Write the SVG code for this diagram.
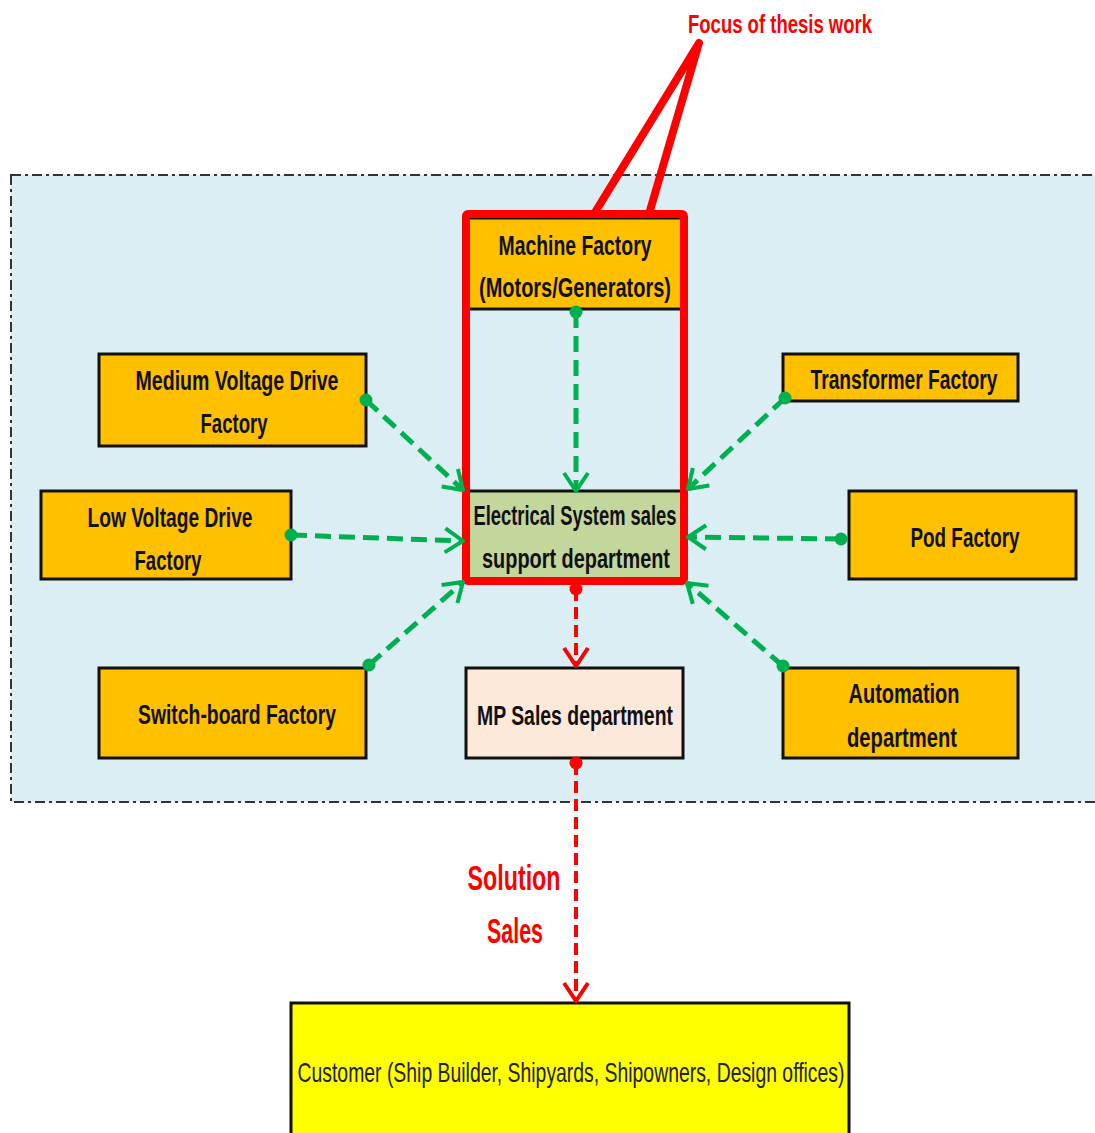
<svg xmlns="http://www.w3.org/2000/svg" width="1095" height="1133" viewBox="0 0 1095 1133">
  <defs>
    <style>
      .box { stroke: #111; stroke-width: 3; }
      .orange { fill: #FFC000; }
      .lbl { font-family: "Liberation Sans Narrow", "Liberation Sans", sans-serif; font-weight: bold; font-size: 27px; fill: #111; text-anchor: middle; }
      .red-lbl { font-family: "Liberation Sans Narrow", "Liberation Sans", sans-serif; font-weight: bold; fill: #FF0000; text-anchor: middle; }
      .g-link { stroke: #00B050; stroke-width: 5; stroke-dasharray: 16 8; fill: none; }
      .r-link { stroke: #FF0000; stroke-width: 4; stroke-dasharray: 12 6; fill: none; }
    </style>
    <marker id="g-dot" viewBox="0 0 14 14" refX="7" refY="7" markerWidth="14" markerHeight="14" markerUnits="userSpaceOnUse">
      <circle cx="7" cy="7" r="6.5" fill="#00B050"/>
    </marker>
    <marker id="g-arrow" viewBox="0 0 22 28" refX="20" refY="14" markerWidth="22" markerHeight="28" markerUnits="userSpaceOnUse" orient="auto">
      <path d="M2,2 L20,14 L2,26" fill="none" stroke="#00B050" stroke-width="4"/>
    </marker>
    <marker id="r-dot" viewBox="0 0 14 14" refX="7" refY="7" markerWidth="14" markerHeight="14" markerUnits="userSpaceOnUse">
      <circle cx="7" cy="7" r="6.5" fill="#FF0000"/>
    </marker>
    <marker id="r-arrow" viewBox="0 0 22 28" refX="20" refY="14" markerWidth="22" markerHeight="28" markerUnits="userSpaceOnUse" orient="auto">
      <path d="M2,2 L20,14 L2,26" fill="none" stroke="#FF0000" stroke-width="4"/>
    </marker>
  </defs>

  <rect width="1095" height="1133" fill="#FFFFFF"/>

  <!-- company boundary -->
  <rect id="boundary" x="11" y="175" width="1100" height="627" fill="#DAEEF3" stroke="#333" stroke-width="2" stroke-dasharray="10 4 3 4"/>

  <g id="machine-factory">
    <rect class="box orange" x="468" y="218" width="214" height="91"/>
    <text class="lbl" x="575" y="255" textLength="153" lengthAdjust="spacingAndGlyphs">Machine Factory</text>
    <text class="lbl" x="575" y="297" textLength="192" lengthAdjust="spacingAndGlyphs">(Motors/Generators)</text>
  </g>

  <g id="es-sales-support">
    <rect x="468" y="491" width="214" height="88" fill="#C3D69B" stroke="#111" stroke-width="3"/>
    <text class="lbl" x="575" y="525" textLength="203" lengthAdjust="spacingAndGlyphs">Electrical System sales</text>
    <text class="lbl" x="576" y="568" textLength="188" lengthAdjust="spacingAndGlyphs">support department</text>
  </g>

  <!-- thesis focus frame and callout -->
  <g id="focus">
    <rect x="466" y="214" width="218" height="367" rx="2" fill="none" stroke="#FF0000" stroke-width="8"/>
    <path d="M594,214 L699,43 L649,214" fill="none" stroke="#FF0000" stroke-width="8" stroke-linejoin="round"/>
    <text class="red-lbl" x="780" y="33" font-size="26" textLength="184" lengthAdjust="spacingAndGlyphs">Focus of thesis work</text>
  </g>

  <g id="mv-drive">
    <rect class="box orange" x="99" y="354" width="267" height="92"/>
    <text class="lbl" x="237" y="390" textLength="203" lengthAdjust="spacingAndGlyphs">Medium Voltage Drive</text>
    <text class="lbl" x="234" y="433" textLength="67" lengthAdjust="spacingAndGlyphs">Factory</text>
  </g>

  <g id="lv-drive">
    <rect class="box orange" x="41" y="491" width="250" height="88"/>
    <text class="lbl" x="170" y="527" textLength="165" lengthAdjust="spacingAndGlyphs">Low Voltage Drive</text>
    <text class="lbl" x="168" y="570" textLength="67" lengthAdjust="spacingAndGlyphs">Factory</text>
  </g>

  <g id="switchboard">
    <rect class="box orange" x="99" y="668" width="267" height="90"/>
    <text class="lbl" x="237" y="724" textLength="198" lengthAdjust="spacingAndGlyphs">Switch-board Factory</text>
  </g>

  <g id="mp-sales">
    <rect x="466" y="668" width="217" height="90" fill="#FDE9D9" stroke="#111" stroke-width="3"/>
    <text class="lbl" x="575" y="725" textLength="196" lengthAdjust="spacingAndGlyphs">MP Sales department</text>
  </g>

  <g id="transformer">
    <rect class="box orange" x="783" y="354" width="235" height="47"/>
    <text class="lbl" x="904" y="389" textLength="187" lengthAdjust="spacingAndGlyphs">Transformer Factory</text>
  </g>

  <g id="pod">
    <rect class="box orange" x="849" y="491" width="227" height="88"/>
    <text class="lbl" x="965" y="547" textLength="109" lengthAdjust="spacingAndGlyphs">Pod Factory</text>
  </g>

  <g id="automation">
    <rect class="box orange" x="783" y="668" width="235" height="90"/>
    <text class="lbl" x="904" y="703" textLength="111" lengthAdjust="spacingAndGlyphs">Automation</text>
    <text class="lbl" x="902" y="747" textLength="110" lengthAdjust="spacingAndGlyphs">department</text>
  </g>

  <g id="customer">
    <rect x="291" y="1003" width="558" height="140" fill="#FFFF00" stroke="#111" stroke-width="3"/>
    <text x="571" y="1082" font-family="Liberation Sans Narrow, Liberation Sans, sans-serif" font-size="28" fill="#222" text-anchor="middle" textLength="547" lengthAdjust="spacingAndGlyphs">Customer (Ship Builder, Shipyards, Shipowners, Design offices)</text>
  </g>

  <!-- connectors -->
  <g id="connectors">
    <path class="g-link" d="M576,312 L576,491" marker-start="url(#g-dot)" marker-end="url(#g-arrow)"/>
    <path class="g-link" d="M366,400 L463,490" marker-start="url(#g-dot)" marker-end="url(#g-arrow)"/>
    <path class="g-link" d="M291,535 L463,541" marker-start="url(#g-dot)" marker-end="url(#g-arrow)"/>
    <path class="g-link" d="M369,665 L463,582" marker-start="url(#g-dot)" marker-end="url(#g-arrow)"/>
    <path class="g-link" d="M785,398 L688,489" marker-start="url(#g-dot)" marker-end="url(#g-arrow)"/>
    <path class="g-link" d="M841,539 L688,537" marker-start="url(#g-dot)" marker-end="url(#g-arrow)"/>
    <path class="g-link" d="M783,666 L687,583" marker-start="url(#g-dot)" marker-end="url(#g-arrow)"/>
    <path class="r-link" d="M576,589 L576,666" marker-start="url(#r-dot)" marker-end="url(#r-arrow)"/>
    <path class="r-link" d="M576,763 L576,1001" marker-start="url(#r-dot)" marker-end="url(#r-arrow)"/>
    <text class="red-lbl" x="514" y="890" font-size="35" textLength="93" lengthAdjust="spacingAndGlyphs">Solution</text>
    <text class="red-lbl" x="515" y="943" font-size="35" textLength="56" lengthAdjust="spacingAndGlyphs">Sales</text>
  </g>
</svg>
